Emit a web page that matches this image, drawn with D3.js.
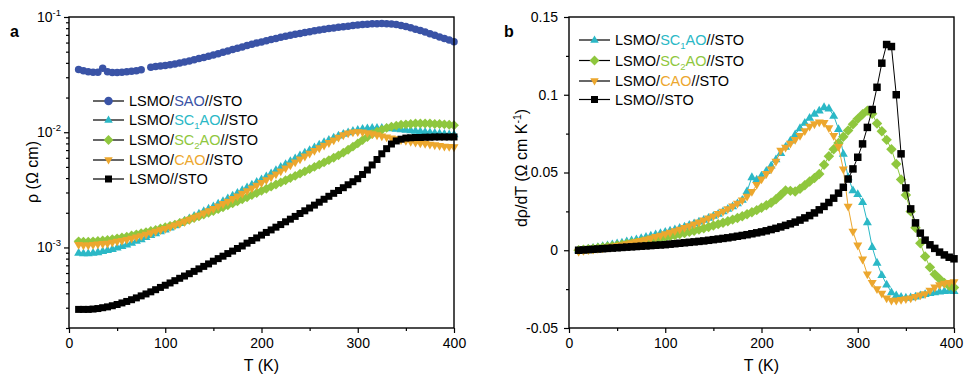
<!DOCTYPE html>
<html>
<head>
<meta charset="utf-8">
<script src="https://cdn.jsdelivr.net/npm/d3@7"></script>
<style>
  body { margin: 0; background: #fff; }
  svg { font-family: "Liberation Sans", Arial, sans-serif; }
</style>
</head>
<body>
<svg id="chart" width="964" height="375"></svg>
<script>
// temperature grid (K), shared by every curve
const temps = [
  10, 15, 20, 25, 30, 35, 40, 45, 50, 55,
  60, 65, 70, 75, 80, 85, 90, 95, 100, 105,
  110, 115, 120, 125, 130, 135, 140, 145, 150, 155,
  160, 165, 170, 175, 180, 185, 190, 195, 200, 205,
  210, 215, 220, 225, 230, 235, 240, 245, 250, 255,
  260, 265, 270, 275, 280, 285, 290, 295, 300, 305,
  310, 315, 320, 325, 330, 335, 340, 345, 350, 355,
  360, 365, 370, 375, 380, 385, 390, 395, 400];

// panel a: resistivity (Ohm cm)
const rhoSAO = [
  0.0350, 0.0342, 0.0335, 0.0332, 0.0332, 0.0360, 0.0335, 0.0330, 0.0330, 0.0332,
  0.0335, 0.0338, 0.0342, 0.0348, null, 0.0367, 0.0372, 0.0376, 0.0380, 0.0385,
  0.0390, 0.0398, 0.0407, 0.0416, 0.0426, 0.0436, 0.0446, 0.0457, 0.0468, 0.0480,
  0.0494, 0.0508, 0.0522, 0.0536, 0.0550, 0.0565, 0.0580, 0.0594, 0.0608, 0.0622,
  0.0637, 0.0652, 0.0666, 0.0680, 0.0694, 0.0707, 0.0720, 0.0733, 0.0746, 0.0758,
  0.0770, 0.0782, 0.0793, 0.0803, 0.0813, 0.0823, 0.0833, 0.0842, 0.0851, 0.0859,
  0.0866, 0.0872, 0.0876, 0.0878, 0.0876, 0.0870, 0.0860, 0.0845, 0.0827, 0.0806,
  0.0784, 0.0762, 0.0740, 0.0717, 0.0694, 0.0672, 0.0650, 0.0630, 0.0610];
const rhoSC1AO = [
  9.0e-4, 8.9e-4, 8.9e-4, 9.0e-4, 9.1e-4, 9.3e-4, 9.5e-4, 9.7e-4, 1.0e-3, 1.03e-3,
  1.06e-3, 1.1e-3, 1.14e-3, 1.18e-3, 1.23e-3, 1.28e-3, 1.33e-3, 1.38e-3, 1.43e-3, 1.49e-3,
  1.56e-3, 1.63e-3, 1.71e-3, 1.79e-3, 1.88e-3, 1.97e-3, 2.07e-3, 2.17e-3, 2.28e-3, 2.4e-3,
  2.53e-3, 2.67e-3, 2.82e-3, 2.98e-3, 3.15e-3, 3.33e-3, 3.52e-3, 3.71e-3, 3.9e-3, 4.15e-3,
  4.4e-3, 4.7e-3, 5.0e-3, 5.3e-3, 5.62e-3, 5.95e-3, 6.3e-3, 6.65e-3, 7.0e-3, 7.4e-3,
  7.8e-3, 8.2e-3, 8.6e-3, 9.0e-3, 9.35e-3, 9.7e-3, 1.0e-2, 1.03e-2, 1.05e-2, 1.07e-2,
  1.08e-2, 1.09e-2, 1.09e-2, 1.09e-2, 1.085e-2, 1.08e-2, 1.07e-2, 1.06e-2, 1.05e-2, 1.04e-2,
  1.03e-2, 1.02e-2, 1.01e-2, 1.0e-2, 9.9e-3, 9.8e-3, 9.7e-3, 9.6e-3, 9.6e-3];
const rhoSC2AO = [
  1.13e-3, 1.12e-3, 1.12e-3, 1.13e-3, 1.14e-3, 1.15e-3, 1.16e-3, 1.18e-3, 1.2e-3, 1.22e-3,
  1.24e-3, 1.27e-3, 1.3e-3, 1.33e-3, 1.36e-3, 1.39e-3, 1.42e-3, 1.46e-3, 1.5e-3, 1.54e-3,
  1.58e-3, 1.63e-3, 1.68e-3, 1.74e-3, 1.8e-3, 1.86e-3, 1.93e-3, 2.0e-3, 2.07e-3, 2.15e-3,
  2.23e-3, 2.32e-3, 2.41e-3, 2.51e-3, 2.62e-3, 2.73e-3, 2.85e-3, 2.97e-3, 3.1e-3, 3.23e-3,
  3.37e-3, 3.52e-3, 3.67e-3, 3.83e-3, 4.0e-3, 4.18e-3, 4.37e-3, 4.57e-3, 4.78e-3, 5.0e-3,
  5.23e-3, 5.47e-3, 5.73e-3, 6.0e-3, 6.3e-3, 6.65e-3, 7.05e-3, 7.5e-3, 8.0e-3, 8.55e-3,
  9.1e-3, 9.65e-3, 1.01e-2, 1.05e-2, 1.09e-2, 1.12e-2, 1.14e-2, 1.16e-2, 1.17e-2, 1.18e-2,
  1.19e-2, 1.19e-2, 1.19e-2, 1.19e-2, 1.18e-2, 1.18e-2, 1.17e-2, 1.16e-2, 1.15e-2];
const rhoCAO = [
  1.05e-3, 1.04e-3, 1.04e-3, 1.05e-3, 1.06e-3, 1.07e-3, 1.08e-3, 1.1e-3, 1.12e-3, 1.14e-3,
  1.16e-3, 1.19e-3, 1.22e-3, 1.25e-3, 1.29e-3, 1.33e-3, 1.37e-3, 1.41e-3, 1.45e-3, 1.5e-3,
  1.55e-3, 1.61e-3, 1.67e-3, 1.74e-3, 1.81e-3, 1.89e-3, 1.97e-3, 2.06e-3, 2.16e-3, 2.27e-3,
  2.38e-3, 2.5e-3, 2.63e-3, 2.77e-3, 2.92e-3, 3.08e-3, 3.25e-3, 3.43e-3, 3.62e-3, 3.83e-3,
  4.05e-3, 4.3e-3, 4.57e-3, 4.85e-3, 5.15e-3, 5.47e-3, 5.8e-3, 6.15e-3, 6.5e-3, 6.87e-3,
  7.25e-3, 7.65e-3, 8.05e-3, 8.5e-3, 8.95e-3, 9.4e-3, 9.75e-3, 9.95e-3, 1.0e-2, 9.95e-3,
  9.8e-3, 9.6e-3, 9.4e-3, 9.2e-3, 9.0e-3, 8.85e-3, 8.7e-3, 8.55e-3, 8.4e-3, 8.25e-3,
  8.1e-3, 8.0e-3, 7.9e-3, 7.8e-3, 7.7e-3, 7.6e-3, 7.5e-3, 7.45e-3, 7.4e-3];
const rhoSTO = [
  2.9e-4, 2.9e-4, 2.9e-4, 2.92e-4, 2.95e-4, 3.0e-4, 3.05e-4, 3.12e-4, 3.2e-4, 3.3e-4,
  3.4e-4, 3.52e-4, 3.65e-4, 3.8e-4, 3.95e-4, 4.12e-4, 4.3e-4, 4.5e-4, 4.7e-4, 4.92e-4,
  5.15e-4, 5.4e-4, 5.65e-4, 5.92e-4, 6.2e-4, 6.52e-4, 6.85e-4, 7.2e-4, 7.6e-4, 8.0e-4,
  8.4e-4, 8.85e-4, 9.3e-4, 9.8e-4, 1.03e-3, 1.09e-3, 1.15e-3, 1.21e-3, 1.28e-3, 1.35e-3,
  1.42e-3, 1.5e-3, 1.58e-3, 1.67e-3, 1.76e-3, 1.86e-3, 1.97e-3, 2.08e-3, 2.2e-3, 2.33e-3,
  2.47e-3, 2.62e-3, 2.78e-3, 2.95e-3, 3.12e-3, 3.3e-3, 3.5e-3, 3.72e-3, 3.95e-3, 4.3e-3,
  4.7e-3, 5.2e-3, 5.8e-3, 6.5e-3, 7.2e-3, 7.9e-3, 8.4e-3, 8.7e-3, 8.9e-3, 8.95e-3,
  9.0e-3, 9.0e-3, 9.05e-3, 9.05e-3, 9.1e-3, 9.1e-3, 9.1e-3, 9.1e-3, 9.1e-3];

// panel b: d(rho)/dT (Ohm cm / K)
const dSC1AO = [
  0.0, 0.0005, 0.001, 0.0015, 0.002, 0.0026, 0.0032, 0.0038, 0.0044, 0.005,
  0.0057, 0.0064, 0.0071, 0.0078, 0.0086, 0.0094, 0.0102, 0.011, 0.0118, 0.0126,
  0.0135, 0.0144, 0.0153, 0.0163, 0.0173, 0.0184, 0.0196, 0.0208, 0.0221, 0.0235,
  0.025, 0.0266, 0.0283, 0.0302, 0.0325, 0.038, 0.047, 0.0455, 0.048, 0.051,
  0.0545, 0.0585, 0.0625, 0.0665, 0.0705, 0.0745, 0.0785, 0.082, 0.0852, 0.0878,
  0.0898, 0.092, 0.0912, 0.0865, 0.078, 0.062, 0.047, 0.0385, 0.0362, 0.031,
  0.018, 0.002, -0.008, -0.016, -0.022, -0.027, -0.029, -0.030, -0.0305, -0.0303,
  -0.0298, -0.029, -0.0282, -0.0275, -0.027, -0.0265, -0.0262, -0.026, -0.0262];
const dSC2AO = [
  0.0, 0.0003, 0.0006, 0.001, 0.0014, 0.0018, 0.0022, 0.0026, 0.003, 0.0035,
  0.004, 0.0045, 0.005, 0.0055, 0.006, 0.0066, 0.0072, 0.0078, 0.0084, 0.009,
  0.0097, 0.0104, 0.0111, 0.0118, 0.0126, 0.0134, 0.0142, 0.015, 0.0159, 0.0168,
  0.0177, 0.0187, 0.0197, 0.0208, 0.0219, 0.0231, 0.0244, 0.0258, 0.0273, 0.0289,
  0.0306, 0.0328, 0.0355, 0.0385, 0.0382, 0.0378, 0.0395, 0.0418, 0.0442, 0.0465,
  0.049, 0.055, 0.0605, 0.065, 0.069, 0.073, 0.077, 0.081, 0.0845, 0.0875,
  0.0898, 0.0878, 0.0815, 0.0765, 0.071, 0.065, 0.0555, 0.0455, 0.0355, 0.025,
  0.0145, 0.0045, -0.004, -0.011, -0.0155, -0.0185, -0.021, -0.0228, -0.024];
const dCAO = [
  -0.001, -0.0005, 0.0, 0.0004, 0.0008, 0.0012, 0.0017, 0.0022, 0.0027, 0.0033,
  0.0039, 0.0046, 0.0053, 0.006, 0.0068, 0.0076, 0.0085, 0.0094, 0.0103, 0.0112,
  0.0122, 0.0132, 0.0143, 0.0154, 0.0166, 0.0178, 0.0191, 0.0204, 0.0218, 0.0233,
  0.0248, 0.0264, 0.0281, 0.03, 0.032, 0.0345, 0.0375, 0.042, 0.0455, 0.049,
  0.052, 0.057, 0.064, 0.066, 0.0685, 0.071, 0.0735, 0.0765, 0.0795, 0.081,
  0.0822, 0.0818, 0.0785, 0.0735, 0.0665, 0.052, 0.028, 0.012, 0.003, -0.006,
  -0.0155, -0.021, -0.025, -0.028, -0.031, -0.0325, -0.0325, -0.032, -0.0315, -0.031,
  -0.030, -0.029, -0.0282, -0.026, -0.024, -0.0225, -0.0215, -0.021, -0.0205];
const dSTO = [
  0.0, 0.0002, 0.0004, 0.0006, 0.0008, 0.001, 0.0012, 0.0014, 0.0016, 0.0018,
  0.002, 0.0022, 0.0024, 0.0026, 0.0028, 0.003, 0.0032, 0.0034, 0.0036, 0.0039,
  0.0042, 0.0045, 0.0048, 0.0051, 0.0054, 0.0057, 0.006, 0.0064, 0.0068, 0.0072,
  0.0076, 0.008, 0.0085, 0.009, 0.0095, 0.01, 0.0106, 0.0112, 0.0118, 0.0125,
  0.0133, 0.0141, 0.015, 0.016, 0.017, 0.0181, 0.0194, 0.0208, 0.0223, 0.024,
  0.026, 0.0282, 0.0307, 0.0335, 0.0367, 0.0405, 0.0458, 0.0523, 0.0598, 0.0684,
  0.079, 0.0905, 0.1048, 0.1203, 0.1323, 0.131, 0.1, 0.062, 0.0401, 0.0266,
  0.0176, 0.011, 0.0065, 0.0035, 0.0012, -0.0012, -0.003, -0.0045, -0.0055];

// legend labels: [plain, coloured, subscript, coloured, plain]
const labelSAO = ['LSMO/', 'SAO', '', '', '//STO'];
const labelSC1AO = ['LSMO/', 'SC', '1', 'AO', '//STO'];
const labelSC2AO = ['LSMO/', 'SC', '2', 'AO', '//STO'];
const labelCAO = ['LSMO/', 'CAO', '', '', '//STO'];
const labelSTO = ['LSMO//STO', '', '', '', ''];

const xTicks = [0, 100, 200, 300, 400];
const xMinor = [50, 150, 250, 350];
const rhoTicks = [1e-3, 1e-2, 1e-1];
const rhoTickLabels = ['-3', '-2', '-1'];
const dTicks = [-0.05, 0, 0.05, 0.1, 0.15];
const dTickLabels = ['-0.05', '0', '0.05', '0.1', '0.15'];
const dMinor = [-0.025, 0.025, 0.075, 0.125];

const colors = {
  SAO: '#3a53a6', SC1AO: '#2bb8c6', SC2AO: '#8fc73e', CAO: '#eca72e', STO: '#000'
};

const svg = d3.select('#chart');

function markerPath(kind, s) {
  const h = s * 0.866;
  switch (kind) {
    case 'circle':
      return d3.symbol(d3.symbolCircle, Math.PI * (s / 2) * (s / 2))();
    case 'square':
      return `M${-s / 2},${-s / 2}h${s}v${s}h${-s}Z`;
    case 'diamond': {
      const r = s * 0.58;
      return `M0,${-r}L${r},0L0,${r}L${-r},0Z`;
    }
    case 'up':
      return `M0,${-h * 0.62}L${s / 2},${h * 0.38}L${-s / 2},${h * 0.38}Z`;
    case 'down':
      return `M0,${h * 0.62}L${s / 2},${-h * 0.38}L${-s / 2},${-h * 0.38}Z`;
  }
}

function drawSeries(g, x, y, values, color, kind, size) {
  const pts = temps.map((t, i) => ({t: t, v: values[i]}));
  const line = d3.line()
      .defined((d) => d.v !== null)
      .x((d) => x(d.t))
      .y((d) => y(d.v));
  g.append('path')
      .datum(pts)
      .attr('d', line)
      .attr('fill', 'none')
      .attr('stroke', color)
      .attr('stroke-width', 1);
  g.append('g')
      .selectAll('path')
      .data(pts.filter((d) => d.v !== null))
      .enter()
      .append('path')
      .attr('transform', (d) => `translate(${x(d.t)},${y(d.v)})`)
      .attr('d', markerPath(kind, size))
      .attr('fill', color);
}

function drawLegend(g, x0, rows) {
  rows.forEach((r) => {
    g.append('line')
        .attr('x1', x0).attr('x2', x0 + 31)
        .attr('y1', r.y).attr('y2', r.y)
        .attr('stroke', r.color).attr('stroke-width', 1.2);
    g.append('path')
        .attr('transform', `translate(${x0 + 15.5},${r.y})`)
        .attr('d', markerPath(r.kind, r.kind == 'square' ? 7 : 8.5))
        .attr('fill', r.color);
    const text = g.append('text')
        .attr('x', x0 + 36)
        .attr('y', r.y + 5)
        .attr('font-size', 14.5);
    const p = r.label;
    text.append('tspan').text(p[0]);
    if (p[1]) text.append('tspan').attr('fill', r.color).text(p[1]);
    if (p[2]) {
      text.append('tspan').attr('fill', r.color).attr('font-size', 9.5)
          .attr('dy', 4).text(p[2]);
      text.append('tspan').attr('fill', r.color).attr('dy', -4).text(p[3]);
    }
    if (p[4]) text.append('tspan').text(p[4]);
  });
}

function drawFrame(left, top, width, height) {
  const x = d3.scaleLinear().domain([0, 400]).range([left, left + width]);
  svg.append('g')
      .attr('transform', `translate(0,${top + height})`)
      .call(d3.axisBottom(x).tickValues(xMinor).tickSize(3).tickFormat(''))
      .call((a) => a.select('.domain').remove());
  svg.append('g')
      .attr('transform', `translate(0,${top + height})`)
      .call(d3.axisBottom(x).tickValues(xTicks).tickSize(5).tickPadding(5))
      .call((a) => a.select('.domain').remove())
      .selectAll('text')
      .attr('font-size', 14).attr('font-family', null).attr('fill', '#000')
      // keep the last label inside the page
      .attr('dx', (d) => (x(d) > 940 ? -3 : 0));
  svg.append('text')
      .attr('x', left + width / 2)
      .attr('y', 371)
      .attr('text-anchor', 'middle')
      .attr('font-size', 16)
      .text('T (K)');
  return x;
}

function styleAxis(a) {
  a.selectAll('line').attr('stroke', '#000').attr('stroke-width', 1.2);
}

// ---------- panel a ----------
(function() {
  const left = 69; const top = 17; const width = 385; const height = 311;
  const x = drawFrame(left, top, width, height);
  const y = d3.scaleLog().domain([2e-4, 0.1]).range([top + height, top]);

  const minor = [];
  [1e-4, 1e-3, 1e-2].forEach((dec) => {
    for (let k = 2; k <= 9; k++) {
      if (dec * k >= 2e-4 && dec * k < 0.1) minor.push(dec * k);
    }
  });
  svg.append('g')
      .attr('transform', `translate(${left},0)`)
      .call(d3.axisLeft(y).tickValues(minor).tickSize(3).tickFormat(''))
      .call((a) => a.select('.domain').remove());
  svg.append('g')
      .attr('transform', `translate(${left},0)`)
      .call(d3.axisLeft(y).tickValues(rhoTicks).tickSize(5).tickFormat(''))
      .call((a) => a.select('.domain').remove());
  rhoTicks.forEach((v, i) => {
    const t = svg.append('text')
        .attr('x', left - 8).attr('y', y(v) + 5)
        .attr('text-anchor', 'end').attr('font-size', 14);
    t.append('tspan').text('10');
    t.append('tspan').attr('font-size', 9.5).attr('dy', -6).text(rhoTickLabels[i]);
  });

  const g = svg.append('g');
  drawSeries(g, x, y, rhoSAO, colors.SAO, 'circle', 7.5);
  drawSeries(g, x, y, rhoSC1AO, colors.SC1AO, 'up', 9);
  drawSeries(g, x, y, rhoSC2AO, colors.SC2AO, 'diamond', 8.5);
  drawSeries(g, x, y, rhoCAO, colors.CAO, 'down', 9);
  drawSeries(g, x, y, rhoSTO, colors.STO, 'square', 7);

  svg.append('rect')
      .attr('x', left).attr('y', top)
      .attr('width', width).attr('height', height)
      .attr('fill', 'none').attr('stroke', '#000').attr('stroke-width', 1.4);

  svg.append('text')
      .attr('transform', `translate(38,172) rotate(-90)`)
      .attr('text-anchor', 'middle')
      .attr('font-size', 16)
      .text('ρ (Ω cm)');
  svg.append('text')
      .attr('x', 10).attr('y', 37)
      .attr('font-size', 16).attr('font-weight', 'bold')
      .text('a');

  drawLegend(svg.append('g'), 93, [
    {y: 101, color: colors.SAO, kind: 'circle', label: labelSAO},
    {y: 120, color: colors.SC1AO, kind: 'up', label: labelSC1AO},
    {y: 140, color: colors.SC2AO, kind: 'diamond', label: labelSC2AO},
    {y: 160, color: colors.CAO, kind: 'down', label: labelCAO},
    {y: 179, color: colors.STO, kind: 'square', label: labelSTO},
  ]);
  styleAxis(svg);
})();

// ---------- panel b ----------
(function() {
  const left = 569; const top = 17; const width = 385; const height = 311;
  const x = drawFrame(left, top, width, height);
  const y = d3.scaleLinear().domain([-0.05, 0.15]).range([top + height, top]);

  svg.append('g')
      .attr('transform', `translate(${left},0)`)
      .call(d3.axisLeft(y).tickValues(dMinor).tickSize(3).tickFormat(''))
      .call((a) => a.select('.domain').remove());
  svg.append('g')
      .attr('transform', `translate(${left},0)`)
      .call(d3.axisLeft(y).tickValues(dTicks).tickSize(5).tickPadding(6)
          .tickFormat((d, i) => dTickLabels[i]))
      .call((a) => a.select('.domain').remove())
      .selectAll('text')
      .attr('font-size', 14).attr('font-family', null).attr('fill', '#000');

  const g = svg.append('g');
  drawSeries(g, x, y, dSC1AO, colors.SC1AO, 'up', 9);
  drawSeries(g, x, y, dSC2AO, colors.SC2AO, 'diamond', 9);
  drawSeries(g, x, y, dCAO, colors.CAO, 'down', 9);
  drawSeries(g, x, y, dSTO, colors.STO, 'square', 7.5);

  svg.append('rect')
      .attr('x', left).attr('y', top)
      .attr('width', width).attr('height', height)
      .attr('fill', 'none').attr('stroke', '#000').attr('stroke-width', 1.4);

  const lab = svg.append('text')
      .attr('transform', `translate(527,168) rotate(-90)`)
      .attr('text-anchor', 'middle')
      .attr('font-size', 16);
  lab.append('tspan').text('dρ/dT (Ω cm K');
  lab.append('tspan').attr('font-size', 10.5).attr('dy', -6).text('-1');
  lab.append('tspan').attr('dy', 6).text(')');
  svg.append('text')
      .attr('x', 504).attr('y', 37)
      .attr('font-size', 16).attr('font-weight', 'bold')
      .text('b');

  drawLegend(svg.append('g'), 579, [
    {y: 40, color: colors.SC1AO, kind: 'up', label: labelSC1AO},
    {y: 60.5, color: colors.SC2AO, kind: 'diamond', label: labelSC2AO},
    {y: 81, color: colors.CAO, kind: 'down', label: labelCAO},
    {y: 99.5, color: colors.STO, kind: 'square', label: labelSTO},
  ]);
  styleAxis(svg);
})();
</script>
</body>
</html>
